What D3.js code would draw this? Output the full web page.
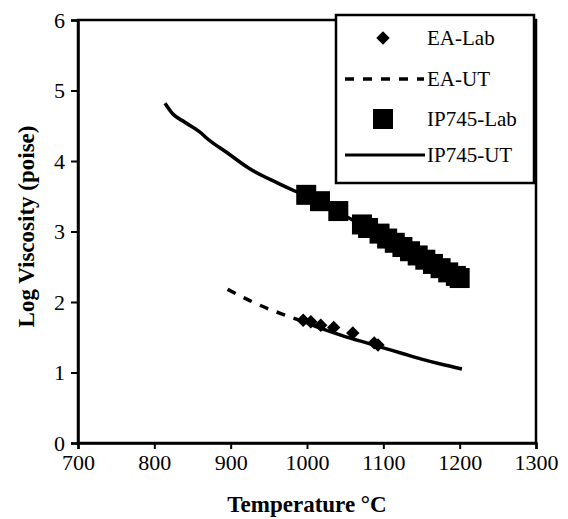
<!DOCTYPE html>
<head>
  <meta charset="utf-8">
  <script src="https://d3js.org/d3.v7.min.js"></script>
  <style>
  body { margin: 0; background: white; }
  #chart text {
    font-family: "Liberation Serif", "Times New Roman", serif;
    fill: black;
  }
  </style>
</head>

<body>
  <svg id="chart" />
  <script>

    // values
    var xTicks = [700, 800, 900, 1000, 1100, 1200, 1300];
    var yTicks = [0, 1, 2, 3, 4, 5, 6];

    var eaLabTemp = [995, 1005, 1018, 1035, 1060, 1088, 1093];
    var eaLabVisc = [1.74, 1.72, 1.67, 1.64, 1.56, 1.42, 1.39];

    var eaUtTemp = [896, 925, 950, 975, 1000, 1025, 1050, 1075, 1100, 1125, 1150, 1175, 1203];
    var eaUtVisc = [2.18, 2.02, 1.90, 1.80, 1.70, 1.60, 1.51, 1.43, 1.35, 1.27, 1.19, 1.12, 1.05];

    var ipLabTemp = [999, 1017, 1041, 1072, 1080, 1095, 1105, 1115, 1125, 1135, 1145, 1155, 1165, 1175, 1185, 1195, 1200];
    var ipLabVisc = [3.52, 3.43, 3.29, 3.10, 3.05, 2.97, 2.90, 2.84, 2.78, 2.72, 2.66, 2.60, 2.54, 2.48, 2.42, 2.37, 2.34];

    var ipUtTemp = [814, 824, 840, 862, 868, 895, 925, 961, 987, 1000, 1050, 1100, 1150, 1200];
    var ipUtVisc = [4.82, 4.67, 4.55, 4.39, 4.33, 4.12, 3.89, 3.69, 3.56, 3.50, 3.22, 2.93, 2.63, 2.34];

    var legendLabels = ["EA-Lab", "EA-UT", "IP745-Lab", "IP745-UT"];

    function zip(a, b) {
      return a.map(function(d, i) { return [d, b[i]]; });
    }

    var width = 568,
        height = 519;

    var x = d3.scaleLinear().domain([700, 1300]).range([78, 536]);
    var y = d3.scaleLinear().domain([0, 6]).range([443, 20]);

    var chart = d3.select('#chart')
        .attr('width', width)
        .attr('height', height);

    // frame
    chart.append('rect')
        .attr('x', x(700))
        .attr('y', y(6))
        .attr('width', x(1300) - x(700))
        .attr('height', y(0) - y(6))
        .attr('fill', 'none')
        .attr('stroke', 'black')
        .attr('stroke-width', 2.5);

    var xAxis = chart.append('g')
        .attr('transform', 'translate(0,' + y(0) + ')')
        .call(d3.axisBottom(x).tickValues(xTicks).tickSize(6).tickPadding(5).tickFormat(d3.format('d')));

    var yAxis = chart.append('g')
        .attr('transform', 'translate(' + x(700) + ',0)')
        .call(d3.axisLeft(y).tickValues(yTicks).tickSize(7).tickPadding(6).tickFormat(d3.format('d')));

    [xAxis, yAxis].forEach(function(g) {
      g.select('.domain').attr('stroke-width', 2.5);
      g.selectAll('.tick line').attr('stroke-width', 2);
      g.selectAll('.tick text')
          .style('font-family', '"Liberation Serif", serif')
          .style('font-size', '22px');
    });

    chart.append('text')
        .attr('x', (x(700) + x(1300)) / 2)
        .attr('y', 512)
        .attr('text-anchor', 'middle')
        .style('font-size', '23px')
        .style('font-weight', 'bold')
        .text('Temperature °C');

    chart.append('text')
        .attr('transform', 'translate(34,' + (y(3) - 5) + ') rotate(-90)')
        .attr('text-anchor', 'middle')
        .style('font-size', '23px')
        .style('font-weight', 'bold')
        .text('Log Viscosity (poise)');

    var line = d3.line()
        .x(function(d) { return x(d[0]); })
        .y(function(d) { return y(d[1]); })
        .curve(d3.curveMonotoneX);

    // IP745-UT
    chart.append('path')
        .datum(zip(ipUtTemp, ipUtVisc))
        .attr('d', line)
        .attr('fill', 'none')
        .attr('stroke', 'black')
        .attr('stroke-width', 3.5);

    // EA-UT: dashed part up to 1000 °C, solid beyond
    var eaUt = zip(eaUtTemp, eaUtVisc);
    chart.append('path')
        .datum(eaUt.filter(function(d) { return d[0] <= 1000; }))
        .attr('d', line)
        .attr('fill', 'none')
        .attr('stroke', 'black')
        .attr('stroke-width', 3.5)
        .attr('stroke-dasharray', '9,9');

    chart.append('path')
        .datum(eaUt.filter(function(d) { return d[0] >= 1000; }))
        .attr('d', line)
        .attr('fill', 'none')
        .attr('stroke', 'black')
        .attr('stroke-width', 3.5);

    // IP745-Lab squares
    chart.selectAll('rect.ip')
        .data(zip(ipLabTemp, ipLabVisc))
      .enter().append('rect')
        .attr('class', 'ip')
        .attr('x', function(d) { return x(d[0]) - 10; })
        .attr('y', function(d) { return y(d[1]) - 10; })
        .attr('width', 20)
        .attr('height', 20)
        .attr('fill', 'black');

    // EA-Lab diamonds
    var diamond = d3.symbol().type(d3.symbolSquare).size(90);
    chart.selectAll('path.ea')
        .data(zip(eaLabTemp, eaLabVisc))
      .enter().append('path')
        .attr('class', 'ea')
        .attr('d', diamond)
        .attr('transform', function(d) { return 'translate(' + x(d[0]) + ',' + y(d[1]) + ') rotate(45)'; })
        .attr('fill', 'black');

    // legend
    var legend = chart.append('g');
    legend.append('rect')
        .attr('x', 336)
        .attr('y', 15)
        .attr('width', 198)
        .attr('height', 168)
        .attr('fill', 'white')
        .attr('stroke', 'black')
        .attr('stroke-width', 2.5);

    var rowY = [38, 79, 119, 155];
    var item = legend.selectAll('g')
        .data(legendLabels)
      .enter().append('g')
        .attr('transform', function(d, i) { return 'translate(0,' + rowY[i] + ')'; });

    item.append('text')
        .attr('x', 427)
        .attr('dy', '0.35em')
        .style('font-size', '21px')
        .text(function(d) { return d; });

    item.filter(function(d, i) { return i === 0; })
      .append('path')
        .attr('d', diamond)
        .attr('transform', 'translate(383,0) rotate(45)');

    item.filter(function(d, i) { return i === 1; })
      .append('line')
        .attr('x1', 345).attr('x2', 424)
        .attr('stroke', 'black')
        .attr('stroke-width', 3.5)
        .attr('stroke-dasharray', '9,9');

    item.filter(function(d, i) { return i === 2; })
      .append('rect')
        .attr('x', 373).attr('y', -10)
        .attr('width', 20).attr('height', 20);

    item.filter(function(d, i) { return i === 3; })
      .append('line')
        .attr('x1', 345).attr('x2', 425)
        .attr('stroke', 'black')
        .attr('stroke-width', 3);

  </script>
</body>
